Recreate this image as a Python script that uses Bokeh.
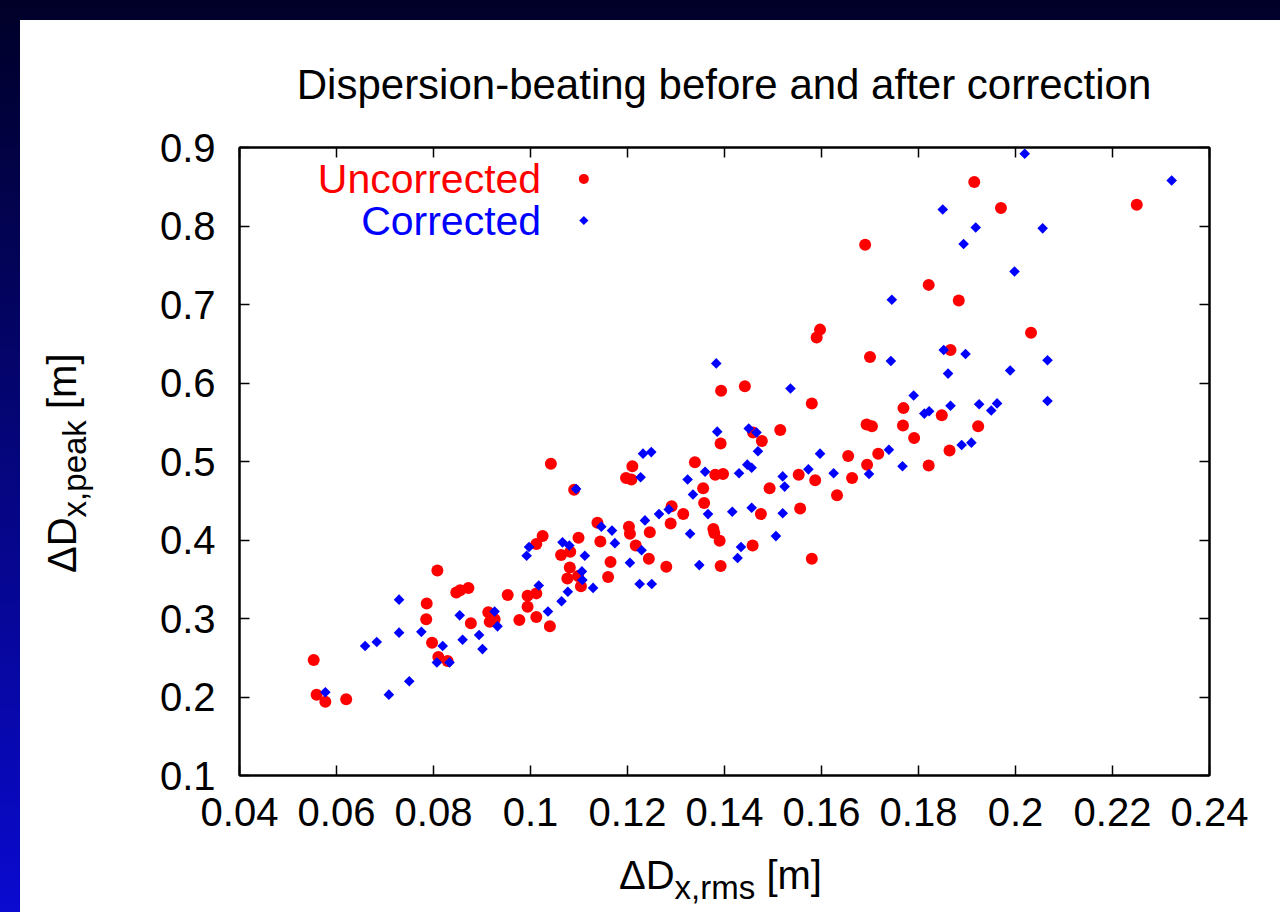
import numpy as np
from bokeh.plotting import figure
from bokeh.models import Label, LinearAxis, FixedTicker, Range1d, Div
from bokeh.layouts import column, row
from bokeh.embed import file_html
from bokeh.resources import INLINE

# ---- data -------------------------------------------------------------
title_text = "Dispersion-beating before and after correction"

uncorrected_rms = [
    0.0553, 0.0559, 0.0577, 0.0620, 0.0808, 0.0786, 0.0785, 0.0847, 0.0855, 0.0872,
    0.0877, 0.0797, 0.0810, 0.0829, 0.1042, 0.1090, 0.1210, 0.1197, 0.1208, 0.1339,
    0.1381, 0.1392, 0.1356, 0.1358, 0.1291, 0.1315, 0.1289, 0.1377, 0.1379, 0.1390,
    0.1392, 0.1246, 0.1203, 0.1205, 0.1138, 0.1144, 0.1217, 0.1244, 0.1280, 0.1165,
    0.1160, 0.1099, 0.1082, 0.1063, 0.1081, 0.1076, 0.1104, 0.1025, 0.1012, 0.0953,
    0.0994, 0.1012, 0.0994, 0.0977, 0.1012, 0.1040, 0.0913, 0.0916, 0.0926, 0.1098,
    0.1700, 0.1393, 0.1442, 0.1580, 0.1515, 0.1459, 0.1477, 0.1769, 0.1848, 0.1768,
    0.1791, 0.1693, 0.1704, 0.1864, 0.1655, 0.1717, 0.1694, 0.1821, 0.1663, 0.1632,
    0.1553, 0.1587, 0.1493, 0.1397, 0.1475, 0.1556, 0.1458, 0.1580, 0.1915, 0.1970,
    0.2250, 0.1821, 0.1883, 0.2032, 0.1866, 0.1923, 0.1690, 0.1597, 0.1590,
]
uncorrected_peak = [
    0.247, 0.203, 0.194, 0.197, 0.361, 0.319, 0.299, 0.333, 0.336, 0.339,
    0.294, 0.269, 0.251, 0.246, 0.497, 0.464, 0.494, 0.479, 0.477, 0.499,
    0.483, 0.523, 0.466, 0.447, 0.443, 0.433, 0.421, 0.414, 0.409, 0.399,
    0.367, 0.410, 0.417, 0.408, 0.422, 0.398, 0.393, 0.376, 0.366, 0.372,
    0.353, 0.403, 0.385, 0.381, 0.365, 0.351, 0.341, 0.405, 0.395, 0.330,
    0.329, 0.332, 0.315, 0.298, 0.302, 0.290, 0.308, 0.296, 0.299, 0.354,
    0.633, 0.590, 0.596, 0.574, 0.540, 0.537, 0.526, 0.568, 0.559, 0.546,
    0.530, 0.547, 0.545, 0.514, 0.507, 0.510, 0.496, 0.495, 0.479, 0.457,
    0.483, 0.476, 0.466, 0.484, 0.433, 0.440, 0.393, 0.376, 0.856, 0.823,
    0.827, 0.725, 0.705, 0.664, 0.642, 0.545, 0.776, 0.668, 0.658,
]

corrected_rms = [
    0.0577, 0.0708, 0.0750, 0.0659, 0.0683, 0.0729, 0.0729, 0.0775, 0.0807, 0.0833,
    0.0819, 0.0854, 0.0860, 0.0894, 0.0901, 0.0932, 0.0926, 0.1036, 0.1064, 0.1077,
    0.1017, 0.0997, 0.0992, 0.1066, 0.1080, 0.1112, 0.1106, 0.1107, 0.1129, 0.1094,
    0.1146, 0.1168, 0.1174, 0.1229, 0.1205, 0.1225, 0.1250, 0.1236, 0.1265, 0.1285,
    0.1232, 0.1249, 0.1227, 0.1324, 0.1360, 0.1335, 0.1366, 0.1329, 0.1348, 0.1385,
    0.1383, 0.1536, 0.1743, 0.1852, 0.1861, 0.1790, 0.1812, 0.1822, 0.1866, 0.1450,
    0.1466, 0.1469, 0.1597, 0.1739, 0.1767, 0.1698, 0.1625, 0.1573, 0.1520, 0.1524,
    0.1447, 0.1456, 0.1430, 0.1416, 0.1456, 0.1520, 0.1506, 0.1434, 0.1427, 0.2019,
    0.2322, 0.1850, 0.1918, 0.2056, 0.1893, 0.1998, 0.1897, 0.1989, 0.2066, 0.2066,
    0.1925, 0.1950, 0.1962, 0.1889, 0.1909, 0.1745,
]
corrected_peak = [
    0.206, 0.203, 0.220, 0.265, 0.270, 0.324, 0.282, 0.283, 0.244, 0.244,
    0.265, 0.304, 0.273, 0.279, 0.261, 0.290, 0.309, 0.309, 0.322, 0.334,
    0.342, 0.391, 0.380, 0.397, 0.393, 0.380, 0.360, 0.349, 0.339, 0.465,
    0.417, 0.412, 0.396, 0.387, 0.371, 0.344, 0.344, 0.425, 0.433, 0.439,
    0.510, 0.512, 0.480, 0.477, 0.487, 0.458, 0.433, 0.408, 0.368, 0.538,
    0.625, 0.593, 0.628, 0.642, 0.612, 0.584, 0.561, 0.564, 0.571, 0.542,
    0.537, 0.513, 0.510, 0.515, 0.494, 0.484, 0.485, 0.490, 0.481, 0.468,
    0.496, 0.492, 0.485, 0.436, 0.441, 0.434, 0.405, 0.391, 0.377, 0.892,
    0.858, 0.821, 0.798, 0.797, 0.777, 0.742, 0.637, 0.616, 0.629, 0.577,
    0.573, 0.565, 0.574, 0.521, 0.524, 0.706,
]

x_ticks = [0.04, 0.06, 0.08, 0.1, 0.12, 0.14, 0.16, 0.18, 0.2, 0.22, 0.24]
x_tick_labels = ["0.04", "0.06", "0.08", "0.1", "0.12", "0.14", "0.16",
                 "0.18", "0.2", "0.22", "0.24"]
y_ticks = [0.1, 0.2, 0.3, 0.4, 0.5, 0.6, 0.7, 0.8, 0.9]
y_tick_labels = ["0.1", "0.2", "0.3", "0.4", "0.5", "0.6", "0.7", "0.8", "0.9"]

series_names = ["Uncorrected", "Corrected"]
series_colors = ["#ff0000", "#0000ff"]

# key placement (gnuplot-style "set key at")
key_marker_x = 0.111
key_text_x = 0.1022
key_y = [0.860, 0.807]

# axis titles: main symbol, subscript, unit
x_title = ("\u0394D", "x,rms", "[m]")
y_title = ("\u0394D", "x,peak", "[m]")

# ---- styling / layout -------------------------------------------------
FONT = "Liberation Sans"
BIG = "40px"
PAD_L, PAD_T = 20, 20            # dark slide frame around the white panel
PANEL_W = 1280 - PAD_L
TITLE_H = 90
XLAB_H = 62
YLAB_W = 110
MID_H = 912 - PAD_T - TITLE_H - XLAB_H
WHITE = {"background-color": "white"}
TEXT_CSS = (f"font-family:'{FONT}'; color:black; white-space:nowrap; "
            "line-height:normal; margin:0; padding:0;")


def rich_title(parts):
    main, sub, unit = parts
    return (f"{main}<span style=\"font-size:33px; vertical-align:-10px;\">{sub}</span>"
            f" {unit}")


def text_box(inner, width, height):
    return (f"<div style=\"position:relative; width:{width}px; height:{height}px; "
            f"background:white; overflow:visible;\">{inner}</div>")


# title strip
title_html = text_box(
    f"<div style=\"position:absolute; left:704px; top:41px; "
    f"transform:translateX(-50%); font-size:42px; {TEXT_CSS}\">{title_text}</div>",
    PANEL_W, TITLE_H)
title_div = Div(text=title_html, width=PANEL_W, height=TITLE_H,
                margin=(0, 0, 0, 0), styles=WHITE)

# y-axis title strip (rotated, reads bottom to top)
ylab_html = text_box(
    f"<div style=\"position:absolute; left:20px; top:463px; "
    f"transform-origin:0 0; transform:rotate(-90deg); font-size:40px; {TEXT_CSS}\">"
    f"{rich_title(y_title)}</div>",
    YLAB_W, MID_H)
ylab_div = Div(text=ylab_html, width=YLAB_W, height=MID_H,
               margin=(0, 0, 0, 0), styles=WHITE)

# x-axis title strip
xlab_html = text_box(
    f"<div style=\"position:absolute; left:599px; top:3px; font-size:40px; {TEXT_CSS}\">"
    f"{rich_title(x_title)}</div>",
    PANEL_W, XLAB_H)
xlab_div = Div(text=xlab_html, width=PANEL_W, height=XLAB_H,
               margin=(0, 0, 0, 0), styles=WHITE)

# main plot
p = figure(
    width=PANEL_W - YLAB_W, height=MID_H,
    frame_width=970, frame_height=628,
    x_range=Range1d(0.04, 0.24), y_range=Range1d(0.1, 0.9),
    output_backend="svg", toolbar_location=None,
    min_border_left=109, min_border_right=71,
    min_border_top=37, min_border_bottom=75,
    background_fill_color="white", border_fill_color="white",
    outline_line_color="black", outline_line_width=2,
    margin=(0, 0, 0, 0),
)
p.xgrid.visible = False
p.ygrid.visible = False


def style_axis(ax, ticks, labels, show_labels, standoff):
    ax.ticker = FixedTicker(ticks=ticks)
    ax.major_label_overrides = dict(zip(ticks, labels))
    ax.major_tick_in = 10
    ax.major_tick_out = 0
    ax.major_tick_line_width = 1.5
    ax.major_tick_line_color = "black"
    ax.minor_tick_line_color = None
    ax.axis_line_color = "black"
    ax.axis_line_width = 2
    ax.major_label_text_font = FONT
    ax.major_label_text_font_size = BIG if show_labels else "0px"
    ax.major_label_text_color = "black" if show_labels else None
    ax.major_label_standoff = standoff


style_axis(p.xaxis[0], x_ticks, x_tick_labels, True, 22)
style_axis(p.yaxis[0], y_ticks, y_tick_labels, True, 24)

top_axis = LinearAxis()
style_axis(top_axis, x_ticks, x_tick_labels, False, 0)
p.add_layout(top_axis, "above")
right_axis = LinearAxis()
style_axis(right_axis, y_ticks, y_tick_labels, False, 0)
p.add_layout(right_axis, "right")

p.scatter(uncorrected_rms, uncorrected_peak, marker="circle", size=12,
          fill_color=series_colors[0], line_color=None)
p.scatter(corrected_rms, corrected_peak, marker="square", angle=np.pi / 4,
          size=7.5, fill_color=series_colors[1], line_color=None)

# key: right-aligned text followed by its symbol
p.scatter([key_marker_x], [key_y[0]], marker="circle", size=10,
          fill_color=series_colors[0], line_color=None)
p.scatter([key_marker_x], [key_y[1]], marker="square", angle=np.pi / 4,
          size=6.5, fill_color=series_colors[1], line_color=None)
for name, color, ky in zip(series_names, series_colors, key_y):
    p.add_layout(Label(x=key_text_x, y=ky, text=name, text_align="right",
                       text_baseline="middle", text_color=color,
                       text_font=FONT, text_font_size="41px"))

white_panel = column(
    title_div,
    row(ylab_div, p, spacing=0, styles=WHITE),
    xlab_div,
    spacing=0,
    margin=(PAD_T, 0, 0, PAD_L),
    styles=WHITE,
)
page = column(
    white_panel,
    styles={"background": "linear-gradient(to bottom, #000028, #0a0ad0)"},
)

open("out.html", "w").write(file_html(page, INLINE))
